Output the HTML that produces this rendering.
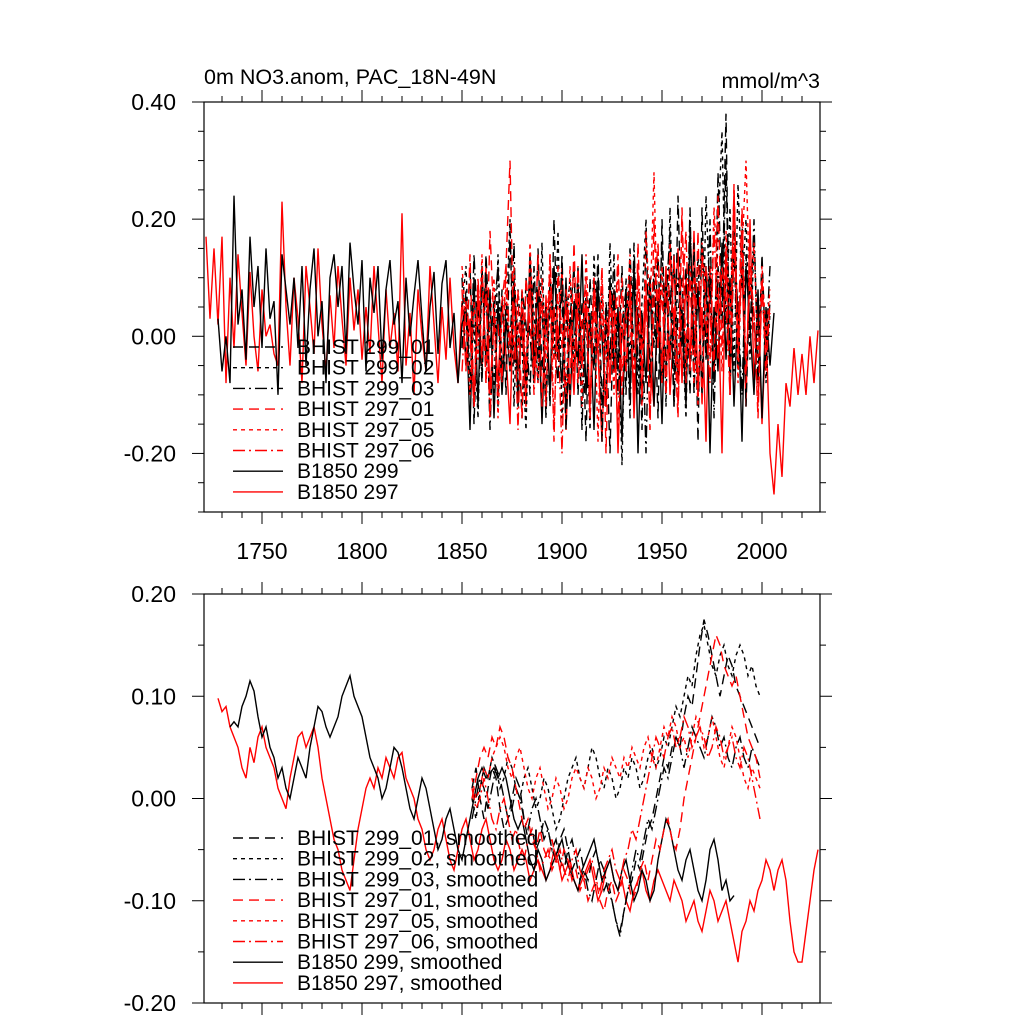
<!DOCTYPE html>
<html><head><meta charset="utf-8"><style>
body{margin:0;background:#fff;}
svg{display:block;font-family:"Liberation Sans",sans-serif;}
</style></head><body>
<svg id="chart" width="1024" height="1024" xmlns="http://www.w3.org/2000/svg"></svg>
<script>
const xTicks=[1750,1800,1850,1900,1950,2000];
const topYTicks=[0.4,0.2,0,-0.2];
const topYLabels=["0.40","0.20","0.00","-0.20"];
const botYTicks=[0.2,0.1,0,-0.1,-0.2];
const botYLabels=["0.20","0.10","0.00","-0.10","-0.20"];
const red297Start=1722;
const red297=[0.17,0.03,0.15,0.02,0.17,-0.08,0.10,-0.02,0.14,0.04,
-0.05,0.11,0.00,-0.06,0.08,0.00,0.02,-0.03,-0.05,0.23,
0.05,-0.05,0.10,0.03,-0.08,0.12,0.05,-0.03,0.15,0.02,
-0.06,0.07,-0.02,0.12,0.03,-0.05,0.10,0.01,0.08,-0.04,
0.05,-0.03,0.12,0.02,-0.08,0.08,-0.02,0.04,-0.06,0.21,
-0.05,0.04,-0.10,0.08,0.00,-0.06,0.12,0.02,-0.08,0.05,
-0.04,0.10,-0.02,-0.08,0.06,-0.05,0.03,-0.12,0.08,-0.05,
0.12,-0.10,0.04,-0.08,0.06,-0.03,-0.15,0.09,-0.06,0.02,
-0.12,0.10,-0.08,0.03,-0.14,0.07,-0.10,0.05,-0.04,0.12,
-0.16,0.02,-0.10,0.08,-0.05,0.06,-0.12,0.10,-0.03,-0.18,
0.05,-0.08,0.08,-0.20,0.02,-0.06,0.10,-0.14,0.04,-0.10,
0.06,-0.04,-0.12,0.08,-0.06,0.12,-0.10,0.02,0.15,-0.08,
0.10,-0.05,0.18,-0.10,0.05,-0.18,0.12,-0.06,0.08,-0.20,
0.15,-0.05,0.25,-0.02,0.12,-0.12,0.20,-0.08,0.05,-0.15,
0.02,-0.20,-0.27,-0.15,-0.24,-0.08,-0.12,-0.02,-0.10,-0.03,
-0.10,0.00,-0.08,0.01];
const black299Start=1728;
const black299=[0.03,-0.06,0.00,-0.08,0.24,0.02,0.08,-0.04,0.17,0.05,
0.12,-0.02,0.15,0.03,0.06,-0.10,0.14,0.08,0.02,0.10,
-0.02,0.12,-0.05,0.08,0.15,0.00,0.06,-0.08,0.10,0.14,
0.05,0.12,-0.03,0.16,0.08,0.02,0.13,-0.06,0.10,0.04,
0.12,-0.04,0.08,0.13,0.02,0.06,-0.08,0.10,0.00,0.07,
0.13,0.03,-0.06,0.05,0.11,-0.03,0.09,0.13,-0.02,0.04,
-0.08,0.02,0.05,-0.16,0.10,-0.12,0.12,-0.05,0.08,-0.14,
0.06,-0.10,0.03,-0.06,0.10,-0.12,0.05,-0.08,0.14,-0.04,
0.08,-0.15,0.05,-0.10,0.12,0.00,-0.08,0.10,-0.12,0.06,
-0.05,0.14,-0.10,0.04,-0.16,0.08,0.00,-0.12,0.10,-0.06,
0.05,-0.18,0.08,-0.10,0.12,-0.20,0.04,-0.08,0.10,-0.12,
0.06,-0.15,0.10,-0.04,0.14,-0.08,0.05,-0.12,0.18,-0.02,
0.08,-0.10,0.12,-0.20,0.05,-0.06,0.16,-0.04,0.10,-0.12,
0.06,-0.18,0.12,0.02,-0.10,0.08,-0.14,0.05,-0.05,0.04];
const histStart=1850;
const h299_01=[0.10,-0.05,0.12,-0.15,0.05,-0.08,0.14,-0.02,0.06,-0.12,
0.08,-0.10,0.18,-0.05,0.02,-0.14,0.10,0.00,-0.08,0.15,
-0.06,0.05,-0.12,0.20,-0.04,0.08,-0.16,0.03,0.12,-0.10,
0.06,-0.18,0.10,-0.05,0.14,-0.12,0.02,-0.20,0.08,-0.06,
0.12,-0.10,0.15,-0.04,0.05,-0.16,0.18,-0.08,0.10,-0.14,
0.20,-0.06,0.08,-0.12,0.24,-0.02,0.12,-0.10,0.16,-0.18,
0.22,-0.04,0.10,-0.08,0.28,0.05,0.38,-0.10,0.15,-0.06,
0.20,-0.12,0.10,0.02,-0.08,0.14,-0.05,0.06];
const h299_02=[0.05,0.12,-0.08,0.02,-0.14,0.10,-0.04,0.06,-0.10,0.14,
-0.06,0.02,0.20,-0.12,0.08,-0.02,-0.16,0.12,0.04,-0.08,
0.16,-0.10,0.06,-0.04,0.18,-0.14,0.02,0.10,-0.06,0.12,
-0.10,0.04,-0.16,0.14,-0.02,0.08,-0.12,0.16,-0.06,0.02,
-0.22,0.10,-0.04,0.14,-0.10,0.06,0.20,-0.08,0.12,-0.02,
0.16,-0.12,0.22,-0.06,0.10,0.02,-0.14,0.20,-0.04,0.14,
-0.10,0.24,0.06,-0.08,0.18,0.35,0.02,0.22,-0.06,0.26,
0.08,0.20,-0.04,0.16,0.00,0.10,-0.08,0.04];
const h299_03=[-0.02,0.08,-0.10,0.14,0.00,-0.06,0.10,-0.16,0.04,0.12,
-0.08,0.06,-0.02,0.16,-0.12,0.08,0.02,-0.10,0.12,-0.04,
0.06,-0.14,0.10,0.00,-0.08,0.14,-0.12,0.04,-0.02,0.10,
-0.16,0.08,0.02,-0.06,0.12,-0.18,0.06,-0.04,0.14,-0.10,
0.02,0.08,-0.14,0.16,-0.06,0.04,-0.20,0.10,-0.02,0.14,
-0.08,0.06,0.18,-0.12,0.04,0.10,-0.06,0.22,-0.10,0.08,
0.16,-0.04,0.20,-0.14,0.12,0.02,0.30,-0.06,0.18,0.04,
-0.10,0.14,0.00,0.20,-0.08,0.10,-0.02,0.12];
const h297_01=[0.08,-0.06,0.14,-0.12,0.04,0.10,-0.08,0.18,0.02,-0.10,
0.06,0.12,0.30,-0.04,0.08,-0.14,0.10,0.02,-0.06,0.14,
-0.12,0.04,0.08,-0.18,0.12,-0.02,0.06,-0.10,0.16,-0.08,
0.02,0.10,-0.14,0.06,-0.04,0.12,-0.20,0.08,-0.02,0.14,
-0.10,0.04,0.06,-0.12,0.16,-0.06,0.10,-0.16,0.20,-0.02,
0.08,-0.10,0.14,0.02,-0.14,0.22,-0.04,0.10,-0.08,0.18,
-0.12,0.12,0.04,-0.06,0.24,-0.02,0.14,-0.10,0.26,-0.04,
0.18,-0.08,0.12,0.04,-0.14,0.10,-0.06,0.06];
const h297_05=[0.12,0.02,-0.10,0.06,-0.04,0.14,-0.08,0.02,0.10,-0.14,
0.04,0.08,-0.06,0.12,-0.02,0.06,-0.12,0.16,0.00,-0.08,
0.10,-0.04,0.14,-0.16,0.06,0.02,-0.10,0.12,-0.06,0.04,
-0.12,0.14,-0.02,0.08,-0.18,0.10,-0.04,0.06,-0.10,0.12,
-0.06,0.02,0.14,-0.08,0.10,-0.12,0.18,0.04,0.28,-0.02,
0.12,-0.10,0.16,0.02,-0.06,0.20,-0.08,0.12,0.04,-0.12,
0.16,0.06,-0.04,0.22,0.10,-0.06,0.18,0.02,0.24,-0.08,
0.14,0.30,0.06,0.16,-0.04,0.12,0.00,0.08];
const h297_06=[-0.06,0.06,0.00,-0.12,0.10,-0.04,0.08,-0.14,0.04,0.02,
-0.08,0.12,-0.02,0.06,-0.16,0.08,-0.06,0.10,-0.10,0.02,
0.06,-0.12,0.14,-0.04,0.02,-0.20,0.08,0.00,-0.08,0.12,
-0.04,0.06,-0.14,0.10,-0.02,0.04,-0.12,0.08,0.00,-0.16,
0.10,-0.06,0.04,-0.10,0.12,-0.02,0.08,-0.14,0.06,0.16,
-0.08,0.10,-0.04,0.14,-0.12,0.06,0.18,-0.06,0.10,-0.10,
0.14,0.02,-0.08,0.20,-0.04,0.12,0.06,-0.10,0.16,0.00,
0.22,-0.06,0.10,0.04,-0.12,0.08,-0.02,0.04];
const sRed297Start=1728;
const sRed297=[0.098,0.085,0.09,0.07,0.06,0.05,0.03,0.02,0.05,0.035,
0.06,0.07,0.05,0.04,0.03,0.01,0.0,-0.01,0.02,0.04,
0.06,0.065,0.05,0.06,0.07,0.05,0.02,0.0,-0.02,-0.04,
-0.05,-0.07,-0.08,-0.09,-0.06,-0.03,-0.01,0.01,0.02,0.01,
0.03,0.02,0.04,0.03,0.02,0.04,0.045,0.02,0.01,0.0,
-0.02,-0.03,-0.05,-0.06,-0.05,-0.03,-0.02,-0.04,-0.06,-0.07,
-0.05,-0.03,-0.02,-0.04,-0.06,-0.05,-0.03,-0.02,-0.04,-0.06,
-0.07,-0.06,-0.04,-0.05,-0.07,-0.06,-0.05,-0.06,-0.08,-0.07,
-0.06,-0.07,-0.08,-0.07,-0.05,-0.06,-0.08,-0.07,-0.06,-0.08,
-0.09,-0.08,-0.07,-0.06,-0.08,-0.10,-0.09,-0.07,-0.06,-0.08,
-0.09,-0.08,-0.10,-0.11,-0.09,-0.08,-0.07,-0.09,-0.10,-0.08,
-0.07,-0.08,-0.09,-0.10,-0.08,-0.09,-0.10,-0.12,-0.11,-0.10,
-0.12,-0.13,-0.11,-0.09,-0.10,-0.12,-0.11,-0.10,-0.12,-0.14,
-0.16,-0.13,-0.12,-0.10,-0.11,-0.09,-0.08,-0.06,-0.07,-0.09,
-0.07,-0.06,-0.08,-0.12,-0.15,-0.16,-0.16,-0.13,-0.10,-0.07,
-0.05];
const sBlack299Start=1734;
const sBlack299=[0.07,0.075,0.07,0.09,0.10,0.115,0.105,0.08,0.06,0.07,
0.05,0.04,0.02,0.03,0.01,0.0,0.02,0.04,0.03,0.02,
0.05,0.07,0.09,0.085,0.07,0.06,0.07,0.08,0.10,0.11,
0.12,0.10,0.09,0.08,0.06,0.04,0.03,0.02,0.0,0.01,
0.03,0.05,0.045,0.03,0.01,-0.01,-0.02,0.0,0.02,0.01,
-0.01,-0.03,-0.05,-0.04,-0.02,-0.01,-0.03,-0.05,-0.06,-0.04,
-0.02,0.0,0.02,0.03,0.02,0.025,0.03,0.02,0.03,0.02,
0.0,-0.02,-0.03,-0.02,-0.04,-0.06,-0.07,-0.05,-0.06,-0.08,
-0.07,-0.06,-0.05,-0.04,-0.06,-0.07,-0.08,-0.09,-0.07,-0.06,
-0.05,-0.04,-0.06,-0.08,-0.07,-0.06,-0.08,-0.09,-0.07,-0.06,
-0.08,-0.10,-0.09,-0.07,-0.08,-0.10,-0.09,-0.06,-0.04,-0.02,
-0.03,-0.05,-0.07,-0.08,-0.06,-0.05,-0.07,-0.09,-0.10,-0.08,
-0.05,-0.04,-0.06,-0.09,-0.08,-0.10,-0.095];
const sHistStart=1855;
const s299_01=[0.01,0.03,0.0,-0.02,0.01,0.03,0.02,-0.01,-0.03,-0.02,
0.0,0.02,0.01,-0.02,-0.04,-0.03,-0.05,-0.04,-0.02,-0.03,
-0.05,-0.06,-0.04,-0.03,-0.05,-0.07,-0.06,-0.05,-0.07,-0.08,
-0.06,-0.05,-0.07,-0.09,-0.08,-0.10,-0.12,-0.13,-0.11,-0.09,
-0.08,-0.06,-0.07,-0.05,-0.03,-0.02,0.0,0.02,0.04,0.03,
0.05,0.06,0.05,0.08,0.10,0.09,0.12,0.15,0.175,0.16,
0.14,0.12,0.10,0.12,0.14,0.13,0.11,0.10,0.09,0.08,
0.07,0.06,0.05];
const s299_02=[0.0,-0.02,0.01,0.03,0.02,0.04,0.03,0.01,0.02,0.04,
0.03,0.01,0.0,0.02,0.03,0.01,-0.01,0.0,0.02,0.01,
-0.01,-0.03,-0.02,0.0,0.02,0.03,0.04,0.02,0.01,0.03,
0.05,0.04,0.02,0.01,0.03,0.02,0.0,0.01,0.03,0.02,
0.04,0.03,0.01,0.02,0.04,0.05,0.03,0.04,0.06,0.05,
0.07,0.09,0.08,0.10,0.12,0.11,0.14,0.16,0.17,0.15,
0.13,0.12,0.14,0.15,0.13,0.12,0.14,0.15,0.14,0.12,
0.13,0.11,0.10];
const s299_03=[-0.02,0.0,0.02,0.01,-0.01,0.01,0.03,0.02,0.0,-0.02,
-0.01,0.01,0.0,-0.02,-0.03,-0.01,0.0,-0.02,-0.04,-0.03,
-0.05,-0.04,-0.06,-0.07,-0.05,-0.04,-0.06,-0.08,-0.07,-0.09,
-0.10,-0.08,-0.06,-0.07,-0.09,-0.10,-0.12,-0.135,-0.11,-0.09,
-0.07,-0.05,-0.06,-0.04,-0.02,-0.03,-0.01,0.01,0.03,0.02,
0.04,0.06,0.05,0.03,0.05,0.07,0.06,0.05,0.04,0.06,
0.08,0.07,0.05,0.06,0.04,0.03,0.05,0.06,0.04,0.03,
0.05,0.04,0.03];
const s297_01=[0.0,0.02,0.04,0.05,0.04,0.06,0.05,0.07,0.06,0.04,
0.03,0.01,-0.01,-0.03,-0.02,-0.04,-0.05,-0.03,-0.05,-0.06,
-0.04,-0.06,-0.07,-0.05,-0.06,-0.08,-0.07,-0.09,-0.08,-0.10,
-0.09,-0.08,-0.10,-0.11,-0.09,-0.08,-0.10,-0.09,-0.07,-0.08,
-0.10,-0.09,-0.07,-0.06,-0.08,-0.06,-0.04,-0.05,-0.03,-0.02,
-0.04,-0.05,-0.03,0.0,0.02,0.04,0.06,0.08,0.10,0.12,
0.14,0.16,0.15,0.13,0.12,0.11,0.12,0.10,0.08,0.06,
0.05,0.04,0.02];
const s297_05=[0.02,0.0,0.01,0.03,0.02,0.04,0.05,0.06,0.05,0.03,
0.02,0.04,0.05,0.03,0.01,0.0,0.02,0.03,0.01,-0.01,
0.0,0.02,0.01,-0.01,0.0,0.02,0.03,0.02,0.01,0.03,
0.02,0.0,0.01,0.03,0.02,0.04,0.03,0.02,0.04,0.03,
0.05,0.04,0.03,0.05,0.06,0.04,0.03,0.05,0.07,0.06,
0.08,0.07,0.05,0.06,0.04,0.06,0.08,0.07,0.05,0.06,
0.08,0.06,0.04,0.03,0.05,0.07,0.06,0.04,0.02,0.01,
0.03,0.02,0.01];
const s297_06=[0.01,-0.01,0.0,0.02,0.0,-0.02,-0.03,-0.01,0.0,-0.02,
-0.04,-0.03,-0.05,-0.06,-0.04,-0.03,-0.05,-0.07,-0.06,-0.05,
-0.07,-0.06,-0.05,-0.07,-0.08,-0.06,-0.05,-0.07,-0.08,-0.07,
-0.06,-0.08,-0.09,-0.07,-0.06,-0.05,-0.07,-0.08,-0.06,-0.05,
-0.03,-0.04,-0.02,0.0,0.02,0.04,0.06,0.05,0.04,0.06,
0.07,0.05,0.06,0.08,0.07,0.05,0.06,0.07,0.06,0.04,
0.05,0.07,0.06,0.04,0.05,0.06,0.04,0.03,0.05,0.04,
0.02,0.0,-0.02];
const topLegend=["BHIST 299_01","BHIST 299_02","BHIST 299_03","BHIST 297_01","BHIST 297_05","BHIST 297_06","B1850 299","B1850 297"];
const botLegend=["BHIST 299_01, smoothed","BHIST 299_02, smoothed","BHIST 299_03, smoothed","BHIST 297_01, smoothed","BHIST 297_05, smoothed","BHIST 297_06, smoothed","B1850 299, smoothed","B1850 297, smoothed"];

const NS="http://www.w3.org/2000/svg";
const svg=document.getElementById('chart');
const L=204,R=820;
const X0=1721,X1=2029;
function xs(v){return L+(v-X0)/(X1-X0)*(R-L);}
const P1={top:102,bot:512,min:-0.3,max:0.4};
const P2={top:594,bot:1003,min:-0.2,max:0.2};
function ys(p,v){return p.bot-(v-p.min)/(p.max-p.min)*(p.bot-p.top);}
function el(tag,attrs,parent){const e=document.createElementNS(NS,tag);for(const k in attrs)e.setAttribute(k,attrs[k]);(parent||svg).appendChild(e);return e;}
const styles=[
 {c:"#000",d:"10,6"},{c:"#000",d:"4,4"},{c:"#000",d:"12,4,2,4"},
 {c:"#f00",d:"10,6"},{c:"#f00",d:"4,4"},{c:"#f00",d:"12,4,2,4"},
 {c:"#000",d:""},{c:"#f00",d:""}];

function series(p,start,vals,st,name){
  let d="";
  vals.forEach((v,i)=>{d+=(i?"L":"M")+xs(start+2*i).toFixed(1)+","+ys(p,v).toFixed(1);});
  const e=el('path',{d:d,fill:"none",stroke:st.c,"stroke-width":1.4,"stroke-dasharray":st.d||"none"});
  
  
}
function axes(p,yt,yl,name){
  const g=el('g',{});
  
  
  el('rect',{x:L,y:p.top,width:R-L,height:p.bot-p.top,fill:"none",stroke:"#000","stroke-width":1.2},g);
  for(let yr=1730;yr<=2020;yr+=10){
    const x=xs(yr),maj=yr%50===0,len=maj?12:6;
    el('line',{x1:x,x2:x,y1:p.top,y2:p.top-len,stroke:"#000","stroke-width":1},g);
    el('line',{x1:x,x2:x,y1:p.bot,y2:p.bot+len,stroke:"#000","stroke-width":1},g);
  }
  for(let v=p.min;v<=p.max+1e-9;v+=0.05){
    const y=ys(p,v),maj=yt.some(t=>Math.abs(t-v)<1e-6),len=maj?12:6;
    el('line',{x1:L,x2:L-len,y1:y,y2:y,stroke:"#000","stroke-width":1},g);
    el('line',{x1:R,x2:R+len,y1:y,y2:y,stroke:"#000","stroke-width":1},g);
  }
  yt.forEach((v,i)=>{
    const t=el('text',{x:176,y:ys(p,v)+8,"text-anchor":"end","font-size":23},g);
    t.textContent=yl[i];
    
    
  });
}
function legend(p,labels,y0,name){
  const g=el('g',{});
  
  
  labels.forEach((lab,i)=>{
    const y=y0+i*20.7;
    el('line',{x1:233,x2:283,y1:y,y2:y,stroke:styles[i].c,"stroke-width":1.4,"stroke-dasharray":styles[i].d||"none"},g);
    const t=el('text',{x:297,y:y+7,"font-size":21},g);
    t.textContent=lab;
    
    
  });
}
axes(P1,topYTicks,topYLabels,'top-axes');
axes(P2,botYTicks,botYLabels,'bottom-axes');
xTicks.forEach(v=>{
  const t=el('text',{x:xs(v),y:559,"text-anchor":"middle","font-size":23});
  t.textContent=String(v);
  
  
});
const tt=el('text',{x:204,y:84,"font-size":21.5});tt.textContent="0m NO3.anom, PAC_18N-49N";


const tu=el('text',{x:820,y:88,"font-size":21.5,"text-anchor":"end"});tu.textContent="mmol/m^3";



series(P1,red297Start,red297,styles[7],'b1850-297');
series(P1,black299Start,black299,styles[6],'b1850-299');
[h299_01,h299_02,h299_03,h297_01,h297_05,h297_06].forEach((s,i)=>series(P1,histStart,s,styles[i],'bhist-'+i));
series(P2,sRed297Start,sRed297,styles[7],'b1850-297-smoothed');
series(P2,sBlack299Start,sBlack299,styles[6],'b1850-299-smoothed');
[s299_01,s299_02,s299_03,s297_01,s297_05,s297_06].forEach((s,i)=>series(P2,sHistStart,s,styles[i],'bhist-smoothed-'+i));
legend(P1,topLegend,347,'top-legend');
legend(P2,botLegend,838,'bottom-legend');
</script>
</body></html>
